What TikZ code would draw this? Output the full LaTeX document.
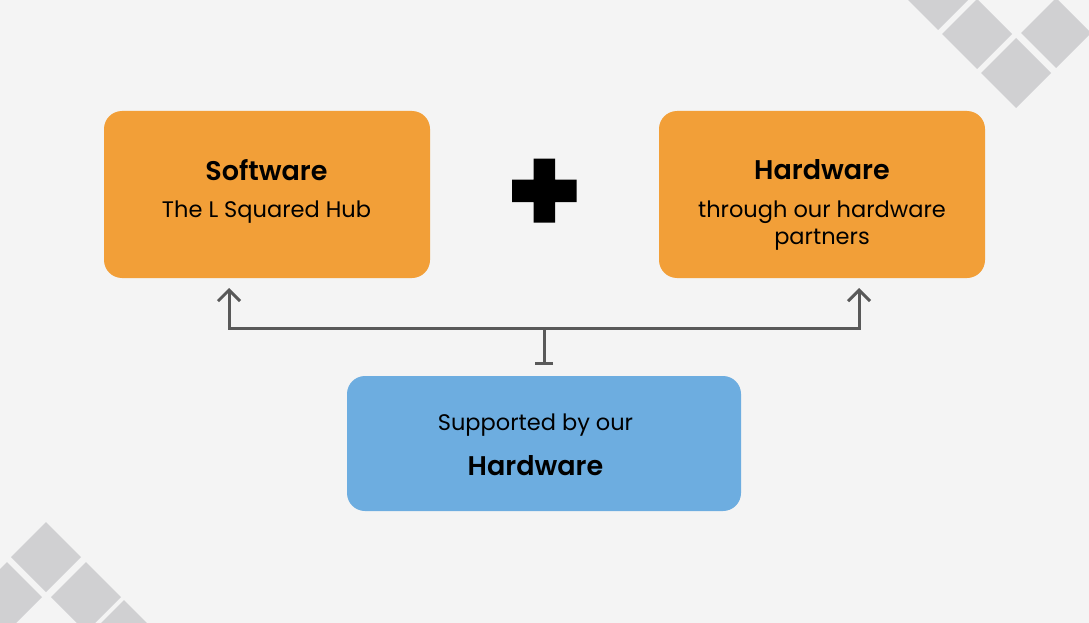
\documentclass[tikz,border=0pt]{standalone}
\usepackage{fontspec}
\setmainfont{Poppins}[BoldFont={Poppins SemiBold}]
\usepackage{xcolor}
\usetikzlibrary{arrows.meta,positioning}
\definecolor{pagegrey}{HTML}{F4F4F4}
\definecolor{tilegrey}{HTML}{D0D0D2}
\definecolor{softorange}{HTML}{F29F38}
\definecolor{softblue}{HTML}{6DADE0}
\definecolor{linegrey}{HTML}{595959}
\tikzset{
  tile/.style={fill=tilegrey},
  card/.style={rounded corners=18pt,inner sep=0pt},
  orangecard/.style={card,fill=softorange,minimum width=326pt,minimum height=167pt},
  bluecard/.style={card,fill=softblue,minimum width=394pt,minimum height=135pt},
  head/.style={font=\fontsize{27}{32}\selectfont\bfseries,inner sep=0pt,text=black},
  body/.style={font=\fontsize{22.5}{27}\selectfont,inner sep=0pt,align=center,text=black},
  link/.style={draw=linegrey,line width=3pt},
  barb/.style={-{Straight Barb[length=11pt,width=22pt,line width=3pt]}},
  stem/.style={{Bar[width=18pt,line width=3pt,length=0pt]}-}
}
\begin{document}
\begin{tikzpicture}[x=1pt,y=-1pt]
   \useasboundingbox (0,0) rectangle (1089,623);
   \fill[pagegrey] (0,0) rectangle (1089,623);
   % corner tiles
   \begin{scope}
    \clip (0,0) rectangle (1089,623);
    \foreach \cx/\cy in {938/-5,977/34,1016/73,1056/33,46/557,7/597,86/597,124/635}
      \fill[tile] (\cx-35,\cy) -- (\cx,\cy-35) -- (\cx+35,\cy) -- (\cx,\cy+35) -- cycle;
   \end{scope}
   % the three boxes
   \node[orangecard] (software) at (267,194.5) {};
   \node[orangecard] (hardware) at (822,194.5) {};
   \node[bluecard] (support) at (544,443.5) {};
   \node[head] (softwarehead) at (266.5,170) {Software};
   \node[body] (softwarebody) at (266.5,212) {The L Squared Hub};
   \node[head] (hardwarehead) at (822,170) {Hardware};
   \node[body] (hardwarebody) at (822,225.5) {through our hardware\\partners};
   \node[body] (supporttext) at (535.5,425.5) {Supported by our};
   \node[head] (supporthead) at (535.5,465.5) {Hardware};
   % plus sign
   \fill[black] (533.5,158.5) -- (555,158.5) -- (555,179.5) -- (576.5,179.5) -- (576.5,202) -- (555,202)
      -- (555,222.5) -- (533.5,222.5) -- (533.5,202) -- (512,202) -- (512,179.5) -- (533.5,179.5) -- cycle;
   % connector
   \coordinate (tipl) at (229,288);
   \coordinate (tipr) at (859,288);
   \coordinate (foot) at (544,365);
   \coordinate (joint) at (544,328.5);
   \draw[link,barb] (joint) -| (tipl);
   \draw[link,barb] (joint) -| (tipr);
   \draw[link,stem] (foot) -- (joint);
\end{tikzpicture}
\end{document}
